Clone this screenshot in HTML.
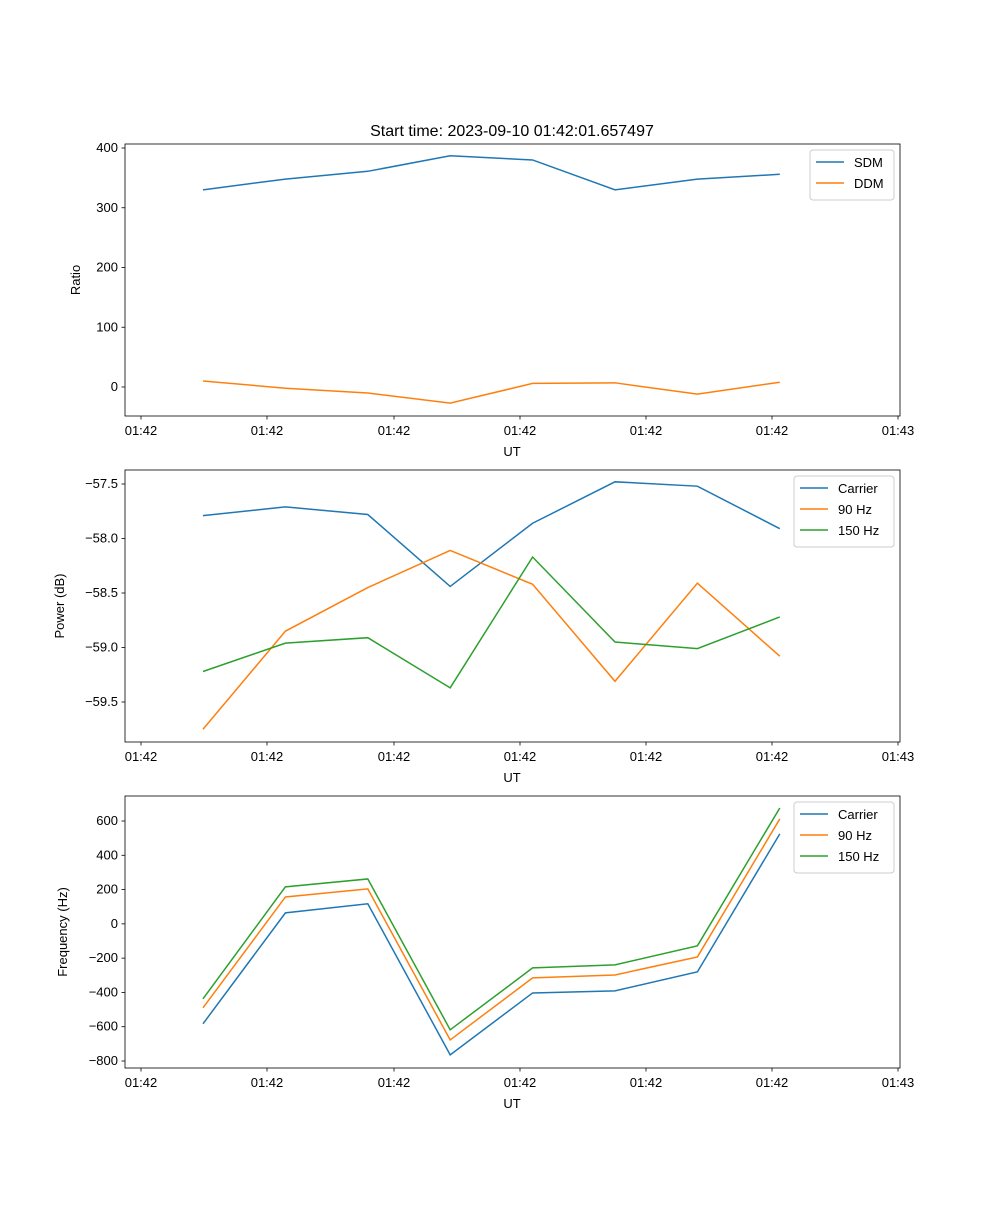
<!DOCTYPE html>
<html><head><meta charset="utf-8"><style>
body{margin:0;background:#fff;}
svg{font-family:"Liberation Sans","DejaVu Sans",sans-serif;}
</style></head><body>
<svg id="fig" width="1000" height="1200" xmlns="http://www.w3.org/2000/svg">
<text x="512" y="136" font-size="16" text-anchor="middle">Start time: 2023-09-10 01:42:01.657497</text>
</svg>
<script>
const xIdx = [0,1,2,3,4,5,6,7];
const xTickLabels = ["01:42","01:42","01:42","01:42","01:42","01:42","01:43"];
const sdm = [330,348,361,387,380,330,348,356];
const ddm = [10,-2,-10,-27,6,7,-12,8];
const ratioTicks = [0,100,200,300,400];
const pCarrier = [-57.79,-57.71,-57.78,-58.44,-57.86,-57.48,-57.52,-57.91];
const p90 = [-59.75,-58.85,-58.45,-58.11,-58.42,-59.31,-58.41,-59.08];
const p150 = [-59.22,-58.96,-58.91,-59.37,-58.17,-58.95,-59.01,-58.72];
const powerTicks = [-59.5,-59.0,-58.5,-58.0,-57.5];
const fCarrier = [-583,64,117,-764,-403,-391,-280,525];
const f90 = [-490,157,204,-677,-315,-298,-193,612];
const f150 = [-437,216,262,-618,-257,-239,-128,676];
const freqTicks = [-800,-600,-400,-200,0,200,400,600];

const NS="http://www.w3.org/2000/svg";
const svg=document.getElementById('fig');
function mk(t,a,p){const e=document.createElementNS(NS,t);for(const k in a)e.setAttribute(k,a[k]);(p||svg).appendChild(e);return e;}
const L=125,R=900;
const xPix=i=>203+i*82.4;
const xTickPix=[141,267,394,520,646,772,898];

function panel(name,top,bot,y0v,y0p,y1v,y1p,ticks,fmt,ylabel,series,legend){
  const g=mk('g',{});
  
  
  const y=v=>y0p+(v-y0v)*(y1p-y0p)/(y1v-y0v);
  series.forEach(s=>{
    const p=mk('polyline',{points:s.d.map((v,i)=>xPix(xIdx[i])+','+y(v)).join(' '),fill:'none',stroke:s.c,'stroke-width':1.5},g);
    
    
  });
  const fr=mk('rect',{x:L,y:top,width:R-L,height:bot-top,fill:'none',stroke:'#000','stroke-width':0.8},g);
  
  
  ticks.forEach(t=>{
    mk('line',{x1:L-3.5,x2:L,y1:y(t),y2:y(t),stroke:'#000','stroke-width':0.8},g);
    const tx=mk('text',{x:L-7,y:y(t)+4,'font-size':13,'text-anchor':'end'},g);
    tx.textContent=fmt(t);
    
    
  });
  xTickPix.forEach((px,i)=>{
    mk('line',{x1:px,x2:px,y1:bot,y2:bot+3.5,stroke:'#000','stroke-width':0.8},g);
    const tx=mk('text',{x:px,y:bot+19,'font-size':13,'text-anchor':'middle'},g);
    tx.textContent=xTickLabels[i];
    
    
  });
  const xl=mk('text',{x:512,y:bot+40,'font-size':13,'text-anchor':'middle'},g);
  xl.textContent='UT';
  
  
  const cy=(top+bot)/2;
  const yl=mk('text',{x:0,y:0,'font-size':13,'text-anchor':'middle',transform:`translate(${legend.yl},${cy}) rotate(-90)`},g);
  yl.textContent=ylabel;
  
  
  const lg=mk('g',{},g);
  
  
  const h=series.length*21+8;
  mk('rect',{x:legend.x,y:top+6,width:R-6-legend.x,height:h,fill:'#fff',stroke:'#ccc',rx:3},lg);
  series.forEach((s,i)=>{
    const yy=top+18+i*21;
    mk('line',{x1:legend.x+6,x2:legend.x+34,y1:yy,y2:yy,stroke:s.c,'stroke-width':1.5},lg);
    const t=mk('text',{x:legend.x+44,y:yy+5,'font-size':13},lg);
    t.textContent=s.n;
    
    
  });
}
panel('ratio',144,416,0,387,400,148,ratioTicks,v=>v<0?'−'+(-v):String(v),'Ratio',
  [{n:'SDM',d:sdm,c:'#1f77b4'},{n:'DDM',d:ddm,c:'#ff7f0e'}],{x:810,yl:80});
panel('power',470,742,-57.5,484,-59.5,702,powerTicks,v=>'−'+(-v).toFixed(1),'Power (dB)',
  [{n:'Carrier',d:pCarrier,c:'#1f77b4'},{n:'90 Hz',d:p90,c:'#ff7f0e'},{n:'150 Hz',d:p150,c:'#2ca02c'}],{x:794,yl:64});
panel('frequency',796,1068,600,821,-800,1061,freqTicks,v=>v<0?'−'+(-v):String(v),'Frequency (Hz)',
  [{n:'Carrier',d:fCarrier,c:'#1f77b4'},{n:'90 Hz',d:f90,c:'#ff7f0e'},{n:'150 Hz',d:f150,c:'#2ca02c'}],{x:794,yl:67});
</script>
</body></html>
